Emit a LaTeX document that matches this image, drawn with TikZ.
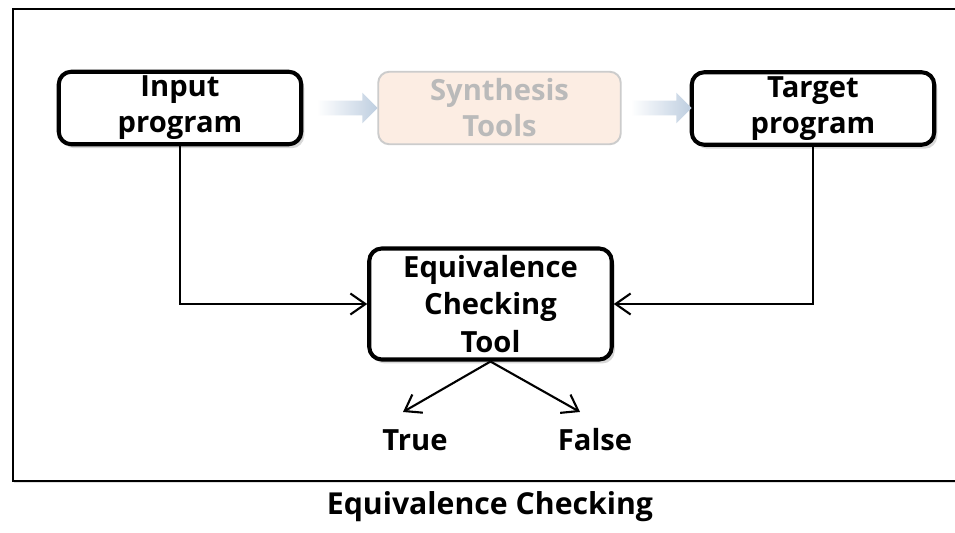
\documentclass[tikz,border=0pt]{standalone}
\usepackage{fontspec}
\setmainfont{Open Sans}
\usetikzlibrary{positioning, arrows.meta, shapes.arrows, shadows}
\definecolor{flowblue}{RGB}{190,206,224}
\definecolor{synthfill}{RGB}{252,237,227}

\begin{document}
\begin{tikzpicture}[
  font=\bfseries\fontsize{16.6}{20.5}\selectfont,
  box/.style={rectangle, draw, line width=2.3pt, rounded corners=0.25cm, fill=white,
    minimum width=4.85cm, minimum height=1.45cm, align=center, inner sep=0pt,
    drop shadow={opacity=0.3, shadow xshift=0.06cm, shadow yshift=-0.08cm}},
  faded/.style={rectangle, draw=black!20, line width=1.1pt, rounded corners=0.22cm,
    fill=synthfill, text=black!27, minimum width=4.85cm, minimum height=1.45cm,
    align=center, inner sep=0pt},
  flow/.style={single arrow, draw=none, left color=white, right color=flowblue,
    minimum height=1.22cm, inner xsep=0pt, inner ysep=0.14cm,
    single arrow head extend=0.16cm, shading angle=90},
  link/.style={line width=1.2pt, -{Straight Barb[length=0.3cm, width=0.42cm]}},
  result/.style={inner sep=2pt}
]
\useasboundingbox (0,0) rectangle (19.1,-10.66);

% Frame
\draw[line width=1pt, drop shadow={opacity=0.25, shadow xshift=0.03cm, shadow yshift=-0.04cm}, fill=white]
  (0.26,-0.18) rectangle (20,-9.62);

% Top row
\node[box] (input) at (3.6,-2.16) {Input\\program};
\node[faded] (synth) at (9.99,-2.16) {Synthesis\\Tools};
\node[box] (target) at (16.26,-2.17) {Target\\program};

% Shaded arrows between the top boxes
\node[flow] (flow1) at (6.87,-2.16) {};
\node[flow] (flow2) at (13.15,-2.16) {};

% Checker
\node[box, minimum height=2.22cm, font=\bfseries\fontsize{16.6}{21.5}\selectfont] (equiv) at (9.81,-6.08) {Equivalence\\Checking\\Tool};

% Outcomes
\node[result] (true) at (8.3,-8.8) {True};
\node[result] (false) at (11.9,-8.8) {False};
\coordinate (trueend) at (8.06,-8.24);
\coordinate (falseend) at (11.6,-8.24);

% Edges
\draw[link] (input.south) |- (equiv.west);
\draw[link] (target.south) |- (equiv.east);
\draw[link] (equiv.south) -- (trueend);
\draw[link] (equiv.south) -- (falseend);

% Caption
\node[font=\bfseries\fontsize{17.2}{20}\selectfont] (caption) at (9.8,-10.14) {Equivalence Checking};

\end{tikzpicture}
\end{document}
